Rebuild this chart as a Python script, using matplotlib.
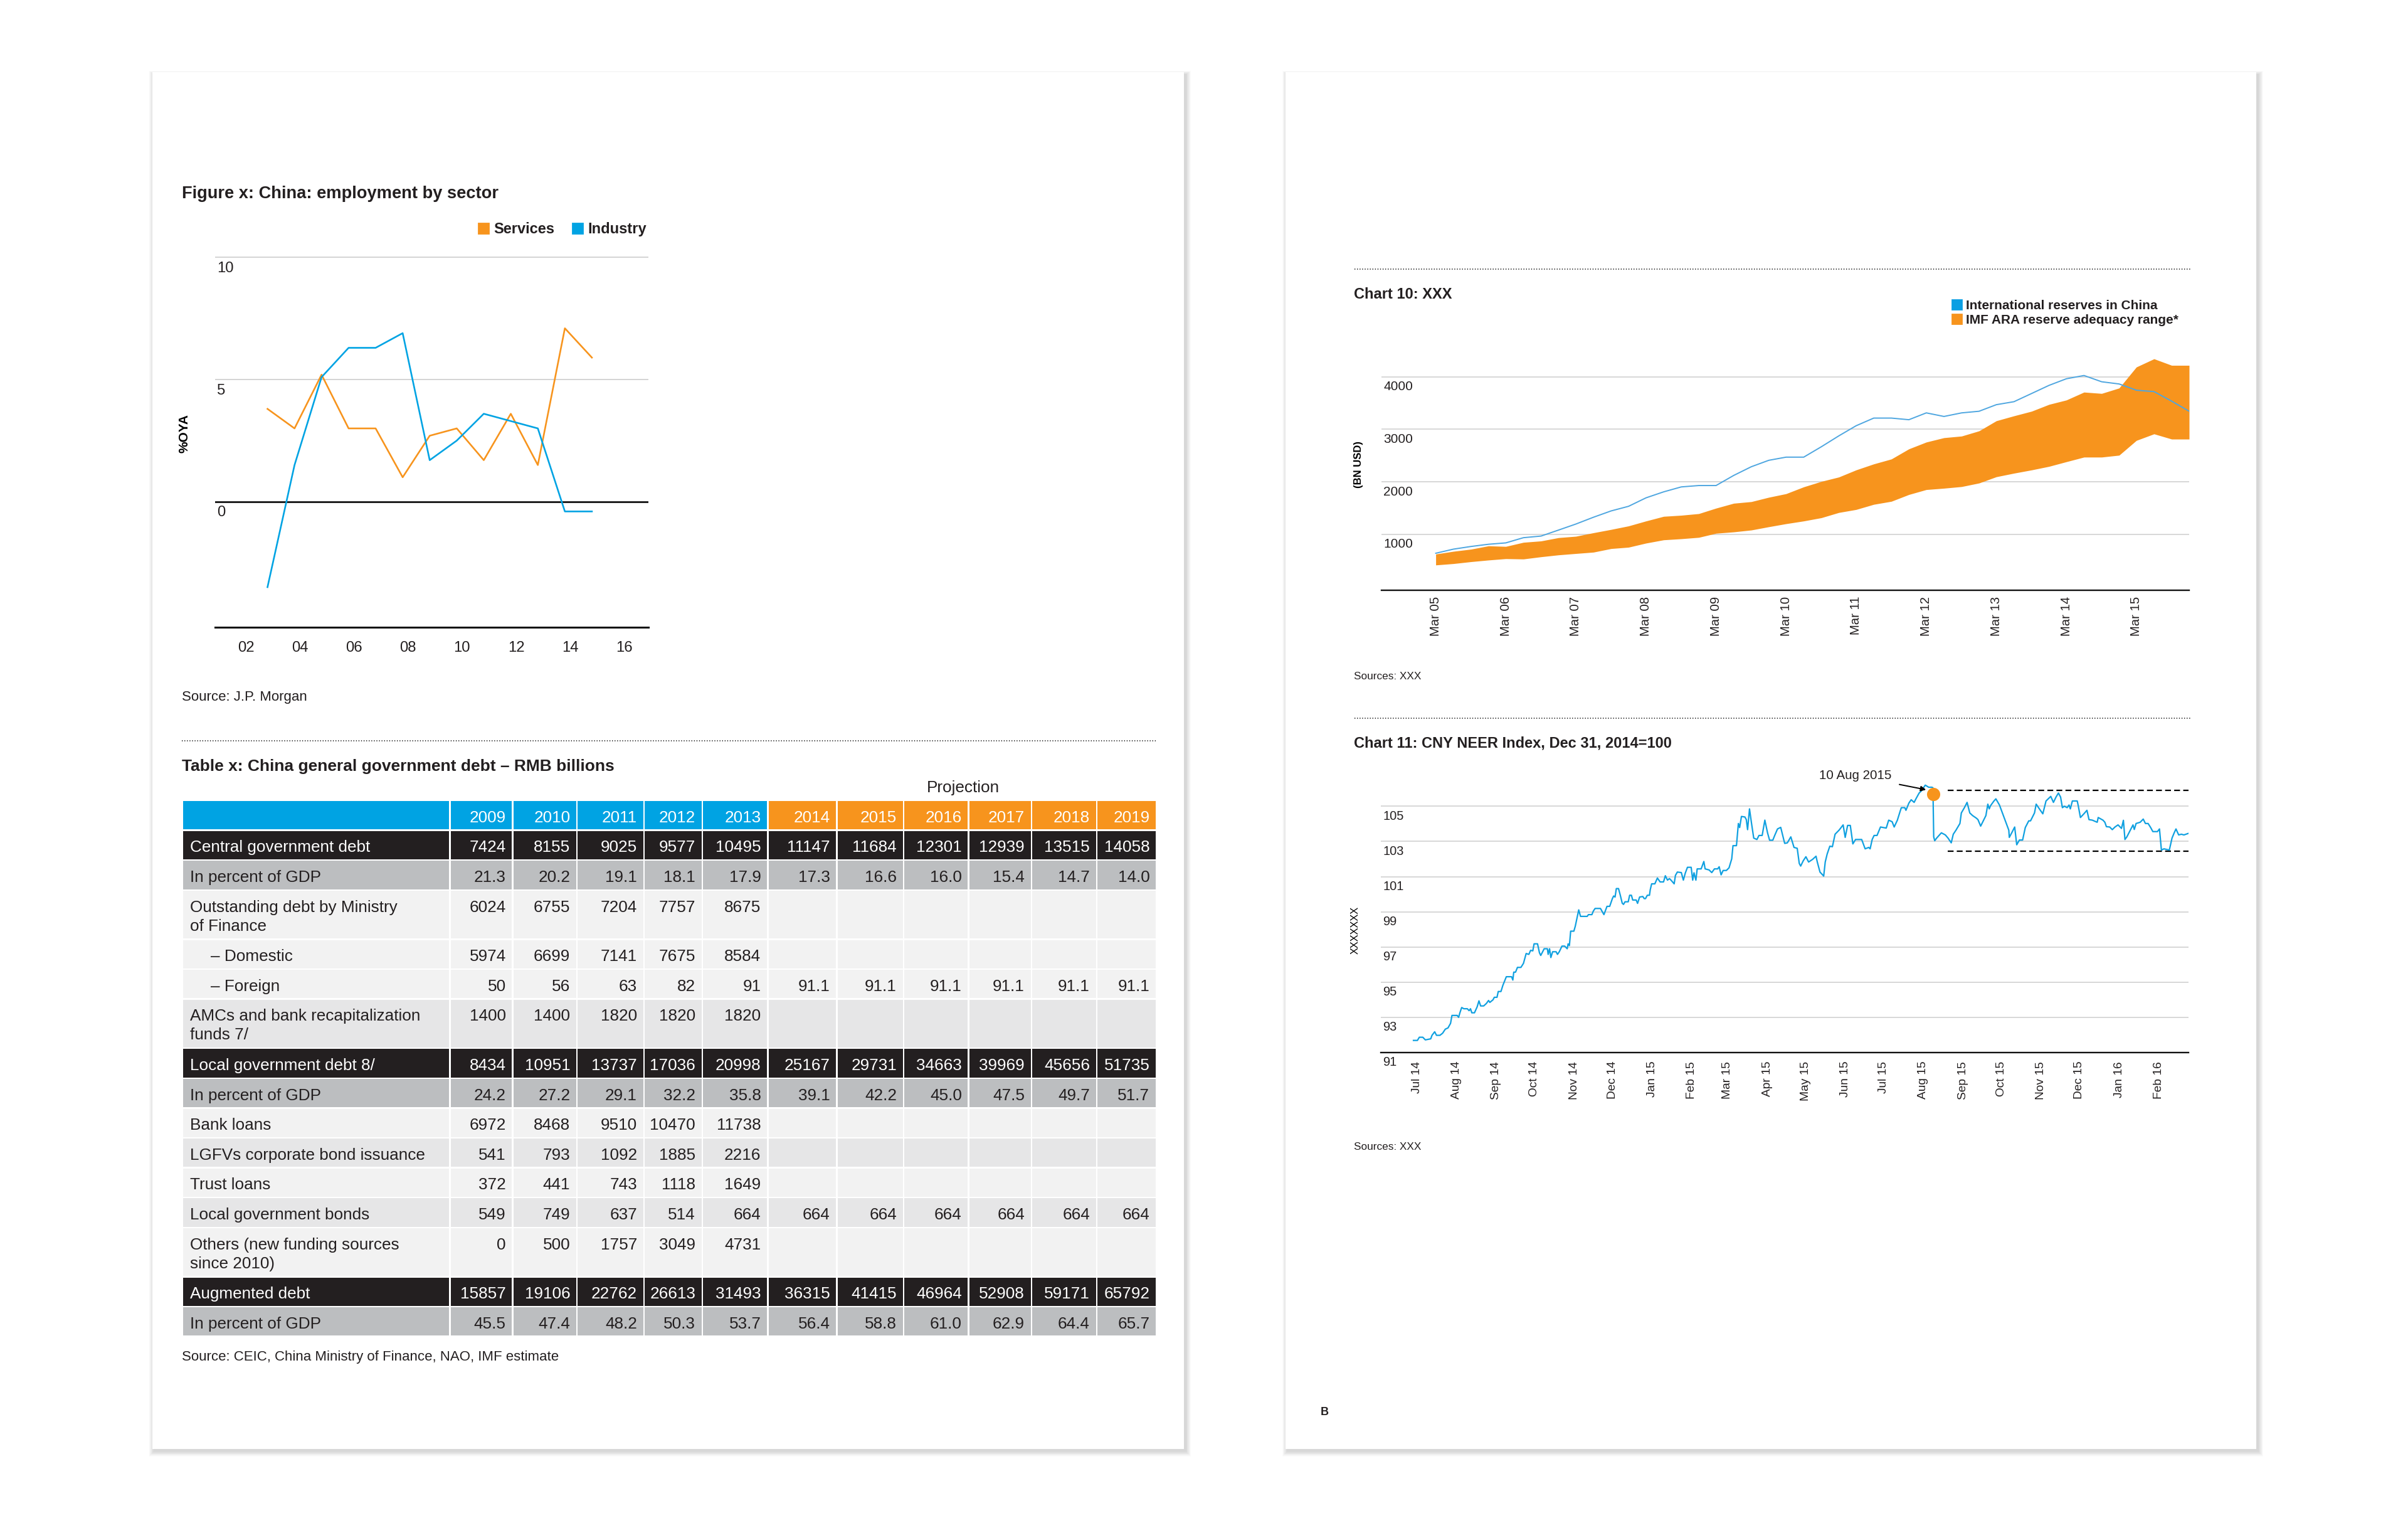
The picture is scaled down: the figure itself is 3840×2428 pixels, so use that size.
import matplotlib
matplotlib.use("Agg")
import matplotlib.pyplot as plt
import matplotlib.dates as mdates
import matplotlib.transforms as mtransforms
import pandas as pd
from matplotlib.patches import Rectangle, Patch

plt.rcParams['font.family'] = ['Liberation Sans', 'DejaVu Sans']
plt.rcParams['text.color'] = '#231f20'

W, H = 3840, 2428
ORANGE = '#f7941d'
BLUE = '#00a3e3'
INK = '#231f20'
GRID = '#cdcdcd'

# ---- Figure x: China employment by sector (%oya) ----
emp_years = list(range(2003, 2016))
services = [3.8, 3.0, 5.2, 3.0, 3.0, 1.0, 2.7, 3.0, 1.7, 3.6, 1.5, 7.1, 5.9]
industry = [-3.5, 1.5, 5.1, 6.3, 6.3, 6.9, 1.7, 2.5, 3.6, 3.3, 3.0, -0.4, -0.4]

# ---- Table x: general government debt, RMB bn ----
years = list(range(2009, 2020))
row_labels = [
    'Central government debt',
    'In percent of GDP',
    'Outstanding debt by Ministry\nof Finance',
    '– Domestic',
    '– Foreign',
    'AMCs and bank recapitalization\nfunds 7/',
    'Local government debt 8/',
    'In percent of GDP',
    'Bank loans',
    'LGFVs corporate bond issuance',
    'Trust loans',
    'Local government bonds',
    'Others (new funding sources\nsince 2010)',
    'Augmented debt',
    'In percent of GDP',
]
row_values = [
    ['7424', '8155', '9025', '9577', '10495', '11147', '11684', '12301', '12939', '13515', '14058'],
    ['21.3', '20.2', '19.1', '18.1', '17.9', '17.3', '16.6', '16.0', '15.4', '14.7', '14.0'],
    ['6024', '6755', '7204', '7757', '8675', '', '', '', '', '', ''],
    ['5974', '6699', '7141', '7675', '8584', '', '', '', '', '', ''],
    ['50', '56', '63', '82', '91', '91.1', '91.1', '91.1', '91.1', '91.1', '91.1'],
    ['1400', '1400', '1820', '1820', '1820', '', '', '', '', '', ''],
    ['8434', '10951', '13737', '17036', '20998', '25167', '29731', '34663', '39969', '45656', '51735'],
    ['24.2', '27.2', '29.1', '32.2', '35.8', '39.1', '42.2', '45.0', '47.5', '49.7', '51.7'],
    ['6972', '8468', '9510', '10470', '11738', '', '', '', '', '', ''],
    ['541', '793', '1092', '1885', '2216', '', '', '', '', '', ''],
    ['372', '441', '743', '1118', '1649', '', '', '', '', '', ''],
    ['549', '749', '637', '514', '664', '664', '664', '664', '664', '664', '664'],
    ['0', '500', '1757', '3049', '4731', '', '', '', '', '', ''],
    ['15857', '19106', '22762', '26613', '31493', '36315', '41415', '46964', '52908', '59171', '65792'],
    ['45.5', '47.4', '48.2', '50.3', '53.7', '56.4', '58.8', '61.0', '62.9', '64.4', '65.7'],
]
first_projection_year = 2014

# ---- Chart 10: reserves vs IMF ARA range, bn USD, quarterly from Mar 05 ----
quarters = pd.date_range('2005-03-01', periods=44, freq='3MS')
reserves = [642, 720, 771, 813, 839, 938, 969, 1083, 1197, 1327, 1447, 1535,
            1696, 1810, 1904, 1930, 1930, 2122, 2288, 2410, 2470, 2470, 2668, 2875,
            3067, 3213, 3213, 3182, 3312, 3244, 3312, 3343, 3468, 3525, 3681, 3836,
            3961, 4023, 3904, 3862, 3743, 3717, 3535, 3343]
ara_high = [626, 678, 719, 782, 771, 849, 875, 938, 964, 1031, 1094, 1161,
            1255, 1343, 1364, 1395, 1499, 1592, 1623, 1706, 1774, 1904, 2008, 2091,
            2226, 2340, 2434, 2626, 2756, 2839, 2870, 2969, 3161, 3255, 3343, 3473,
            3556, 3706, 3681, 3784, 4184, 4340, 4216, 4216]
ara_low = [418, 444, 481, 512, 538, 532, 574, 610, 636, 662, 730, 756,
           834, 896, 917, 943, 1021, 1047, 1083, 1145, 1203, 1255, 1317, 1416,
           1473, 1571, 1629, 1758, 1852, 1878, 1909, 1977, 2096, 2164, 2226, 2294,
           2382, 2470, 2470, 2506, 2787, 2912, 2813, 2813]

# ---- Chart 11: CNY NEER, (days after 1 Jul 2014, index) ----
neer_points = [
    (-2.5, 91.69), (0.6, 91.69), (2.1, 91.87), (4.8, 91.87), (6.8, 91.72), (11.0, 91.78),
    (12.0, 91.98), (14.1, 92.18), (15.5, 91.98), (18.2, 91.98), (20.3, 92.10), (22.4, 92.33),
    (24.5, 92.40), (26.5, 92.66), (27.6, 93.11), (31.7, 93.11), (32.8, 93.00), (33.8, 93.26),
    (35.2, 93.56), (36.9, 93.49), (39.6, 93.49), (41.0, 93.38), (42.1, 93.49), (43.1, 93.26),
    (45.2, 93.26), (47.3, 93.60), (48.7, 93.94), (50.0, 93.65), (52.4, 93.65), (54.5, 93.79),
    (56.2, 93.96), (57.2, 93.85), (59.7, 94.00), (60.7, 94.14), (62.8, 94.14), (63.8, 94.47),
    (65.9, 94.47), (67.4, 94.82), (70.1, 95.31), (74.2, 95.31), (75.2, 95.12), (75.9, 95.57),
    (77.3, 95.57), (78.8, 95.84), (81.5, 95.84), (83.5, 96.07), (85.6, 96.63), (87.7, 96.58),
    (89.1, 96.81), (90.8, 96.78), (91.8, 97.18), (94.5, 97.18), (96.0, 96.67), (97.0, 96.52),
    (99.7, 96.90), (102.2, 96.90), (102.8, 96.58), (103.9, 96.90), (104.9, 96.40), (106.3, 96.73),
    (109.0, 96.73), (110.1, 96.58), (111.5, 96.73), (113.6, 97.05), (115.7, 97.05), (117.7, 96.90),
    (118.4, 97.18), (119.4, 97.08), (120.4, 97.90), (122.9, 97.90), (124.0, 98.18), (126.7, 99.11),
    (128.1, 98.74), (133.3, 98.74), (134.3, 98.84), (137.0, 98.84), (138.1, 99.04), (139.5, 99.19),
    (143.7, 99.19), (146.4, 98.84), (148.8, 99.31), (150.9, 99.31), (153.0, 99.75), (154.0, 99.90),
    (155.1, 99.84), (156.1, 100.32), (157.8, 100.32), (159.2, 99.94), (160.7, 99.49), (161.7, 99.42),
    (162.9, 99.57), (165.4, 99.57), (166.5, 99.94), (167.9, 99.94), (168.9, 99.67), (171.6, 99.67),
    (172.7, 99.48), (174.3, 99.84), (176.8, 99.87), (177.9, 99.75), (178.9, 99.75), (180.3, 99.94),
    (182.0, 99.94), (182.6, 100.25), (183.7, 100.59), (186.2, 100.59), (188.2, 100.92), (190.3, 100.70),
    (193.0, 100.70), (194.4, 101.05), (196.1, 100.80), (197.6, 100.89), (199.2, 100.77), (201.3, 100.59),
    (202.3, 101.07), (203.8, 101.26), (206.9, 101.23), (208.5, 100.80), (210.0, 101.20), (211.7, 101.53),
    (214.6, 101.53), (215.8, 100.80), (216.8, 101.22), (218.3, 100.80), (219.3, 101.44), (222.4, 101.44),
    (224.5, 101.86), (225.5, 101.44), (228.6, 101.38), (230.7, 101.23), (232.8, 101.44), (235.3, 101.44),
    (236.5, 101.56), (238.0, 101.10), (239.6, 101.35), (242.1, 101.35), (244.2, 101.50), (246.3, 102.01),
    (247.3, 102.76), (250.0, 102.76), (251.5, 104.02), (252.5, 103.79), (253.9, 104.42), (256.6, 104.39),
    (257.7, 104.24), (258.7, 103.67), (260.2, 104.85), (261.8, 104.02), (263.5, 103.19), (266.0, 103.11),
    (267.6, 103.34), (270.1, 103.34), (272.2, 104.21), (274.3, 103.49), (275.9, 103.07), (278.4, 103.07),
    (279.9, 103.34), (282.1, 103.71), (284.6, 103.80), (287.7, 102.89), (289.8, 102.92), (292.5, 103.26),
    (295.0, 102.66), (297.5, 102.61), (299.1, 101.75), (300.2, 101.60), (302.2, 101.90), (304.3, 102.13),
    (306.4, 101.83), (309.5, 101.98), (312.2, 102.16), (313.2, 101.83), (315.3, 101.26), (318.2, 101.03),
    (319.4, 101.83), (320.9, 102.28), (323.0, 102.73), (325.0, 102.70), (327.1, 103.41), (330.2, 103.64),
    (333.4, 103.94), (335.0, 103.23), (336.9, 103.91), (339.0, 103.91), (341.0, 102.86), (343.1, 103.11),
    (347.9, 103.11), (350.6, 102.58), (353.4, 102.66), (354.5, 102.58), (356.1, 103.11), (357.6, 103.34),
    (359.9, 103.34), (362.6, 103.82), (367.1, 103.76), (369.0, 104.21), (371.7, 104.12), (373.3, 103.82),
    (375.8, 104.21), (377.9, 104.70), (378.9, 104.92), (381.6, 104.92), (382.5, 104.77), (384.8, 105.18),
    (386.6, 105.37), (388.9, 105.22), (390.3, 105.42), (392.8, 105.75), (394.5, 105.87), (397.6, 106.20),
    (400.3, 106.08), (402.8, 106.08), (403.6, 106.05), (404.2, 103.26), (405.0, 103.04), (406.5, 103.19),
    (410.2, 103.49), (413.3, 103.37), (415.4, 103.19), (417.9, 102.92), (419.5, 103.41), (421.6, 103.64),
    (424.7, 104.02), (425.8, 104.62), (428.2, 104.92), (430.3, 105.22), (432.4, 104.62), (434.6, 104.47),
    (437.6, 104.32), (438.8, 104.24), (440.9, 103.87), (442.4, 104.09), (445.0, 104.47), (446.5, 105.12),
    (447.6, 104.85), (448.6, 105.03), (451.3, 105.30), (452.8, 105.42), (455.6, 105.07), (462.9, 103.64),
    (463.3, 103.23), (465.4, 103.52), (467.5, 103.82), (469.1, 102.81), (471.2, 103.08), (473.7, 103.08),
    (475.8, 103.79), (478.5, 104.17), (479.9, 104.17), (483.0, 104.62), (484.3, 105.12), (486.8, 104.85),
    (489.5, 104.57), (492.0, 105.30), (494.1, 105.45), (495.7, 105.56), (497.8, 105.22), (499.8, 105.52),
    (501.7, 105.75), (503.4, 105.52), (504.8, 104.92), (506.4, 105.00), (508.5, 104.92), (510.0, 105.07),
    (511.0, 104.85), (512.6, 105.30), (516.4, 105.30), (517.2, 105.03), (518.9, 104.36), (521.6, 104.57),
    (524.0, 104.77), (525.6, 104.24), (528.2, 104.21), (532.0, 104.09), (532.8, 104.36), (536.5, 104.21),
    (538.0, 104.09), (539.2, 103.84), (541.8, 103.82), (543.8, 103.67), (545.9, 103.82), (548.3, 103.94),
    (551.0, 103.74), (552.5, 104.20), (553.7, 103.11), (555.2, 103.26), (557.9, 103.64), (560.0, 103.94),
    (561.0, 103.68), (562.4, 104.02), (565.6, 104.09), (568.0, 104.27), (569.7, 104.02), (571.8, 104.02),
    (573.8, 103.79), (575.5, 103.56), (579.1, 103.56), (580.7, 103.71), (582.2, 102.51), (584.2, 102.58),
    (588.4, 102.51), (590.5, 103.19), (592.2, 103.49), (593.6, 103.71), (595.7, 103.37), (597.8, 103.41),
    (599.8, 103.37), (603.4, 103.46),
]
neer_base = pd.Timestamp('2014-07-01')
range_hi, range_lo = 105.89, 102.43      # dashed trading band after the move
range_start_day = 415.2
peak_day, peak_val = 403.8, 105.68       # orange marker, 10 Aug 2015


def rect(x0, y0, x1, y1):
    # pixel box (top-left origin) -> figure fraction rect
    return [x0 / W, 1 - y1 / H, (x1 - x0) / W, (y1 - y0) / H]


fig = plt.figure(figsize=(W / 200, H / 200), dpi=200)
fig.patch.set_facecolor('white')

# page layer, drawn in pixel coordinates
pg = fig.add_axes([0, 0, 1, 1])
pg.set_xlim(0, W)
pg.set_ylim(H, 0)
pg.axis('off')

for x0, x1 in [(242.5, 1888), (2050, 3598)]:
    y0, y1 = 115, 2309.5
    for s in range(1, 11):
        pg.add_patch(Rectangle((x0 - s * 0.8 + 3, y0 - s * 0.6 + 4), x1 - x0 + s * 1.6, y1 - y0 + s * 1.4,
                               color='black', alpha=0.016, lw=0))
    pg.add_patch(Rectangle((x0, y0), x1 - x0, y1 - y0, color='white', lw=0))

dots = dict(color='#3a3a3a', lw=0.7, ls=(0, (0.7, 1.4)))
pg.plot([290, 1843], [1181, 1181], **dots)
pg.plot([2160, 3494], [429, 429], **dots)
pg.plot([2160, 3494], [1145, 1145], **dots)

pg.text(290, 315.5, 'Figure x: China: employment by sector', fontsize=9.8, fontweight='bold', va='baseline')
pg.text(290, 1117, 'Source: J.P. Morgan', fontsize=8, va='baseline')
pg.text(290, 1228.5, 'Table x: China general government debt – RMB billions', fontsize=9.5,
        fontweight='bold', va='baseline')
pg.text(1535.5, 1262.5, 'Projection', fontsize=9.4, ha='center', va='baseline')
pg.text(290, 2169, 'Source: CEIC, China Ministry of Finance, NAO, IMF estimate', fontsize=8, va='baseline')
pg.text(2159, 475.5, 'Chart 10: XXX', fontsize=8.5, fontweight='bold', va='baseline')
pg.text(2159, 1083, 'Sources: XXX', fontsize=6.2, va='baseline')
pg.text(2159, 1191.5, 'Chart 11: CNY NEER Index, Dec 31, 2014=100', fontsize=8.5, fontweight='bold', va='baseline')
pg.text(2159, 1833, 'Sources: XXX', fontsize=6.2, va='baseline')
pg.text(2106, 2256, 'B', fontsize=6.5, fontweight='bold', va='baseline')

# ---- table ----
col_x = [292, 718.7, 818.7, 921.3, 1028, 1121, 1225.5, 1335.6, 1442, 1545.8, 1646, 1750, 1845.4]
row_kind = ['dark', 'gray', 'light', 'light', 'light', 'mid', 'dark', 'gray',
            'light', 'mid', 'light', 'mid', 'light', 'dark', 'gray']
fills = {'dark': INK, 'gray': '#bcbec0', 'light': '#f2f2f2', 'mid': '#e6e6e7'}
gap, pitch1, pitch2 = 2.5, 47.6, 78.6
cell_fs = 9.4

y = 1277.3
for i in range(len(col_x) - 1):
    if i == 0:
        c = BLUE
    else:
        c = ORANGE if years[i - 1] >= first_projection_year else BLUE
    pg.add_patch(Rectangle((col_x[i], y), col_x[i + 1] - col_x[i] - gap, pitch1 - gap, color=c, lw=0))
    if i > 0:
        pg.text(col_x[i + 1] - gap - 9.5, y + 33.5, str(years[i - 1]), color='white',
                fontsize=cell_fs, ha='right', va='baseline')
y += pitch1

for label, vals, kind in zip(row_labels, row_values, row_kind):
    lines = label.split('\n')
    h = pitch2 if len(lines) > 1 else pitch1
    txt = 'white' if kind == 'dark' else INK
    for i in range(len(col_x) - 1):
        pg.add_patch(Rectangle((col_x[i], y), col_x[i + 1] - col_x[i] - gap, h - gap,
                               color=fills[kind], lw=0))
    indent = 44.5 if label.startswith('–') else 11
    for k, ln in enumerate(lines):
        pg.text(col_x[0] + indent, y + 33.5 + 30 * k, ln, color=txt, fontsize=cell_fs, va='baseline')
    for i, v in enumerate(vals):
        if v:
            pg.text(col_x[i + 2] - gap - 9.5, y + 33.5, v, color=txt, fontsize=cell_fs,
                    ha='right', va='baseline')
    y += h


def inside_ylabels(ax, values, fs, dy=-2.3):
    for v in values:
        ax.annotate(str(v), xy=(0, v), xycoords=('axes fraction', 'data'), xytext=(1.2, dy),
                    textcoords='offset points', ha='left', va='top', fontsize=fs, color=INK,
                    annotation_clip=False)


def clean(ax, base_lw):
    ax.set_facecolor('none')
    for s in ['top', 'right', 'left']:
        ax.spines[s].set_visible(False)
    ax.spines['bottom'].set_color('#111111')
    ax.spines['bottom'].set_linewidth(base_lw)
    ax.set_yticks([])


# ---- Figure x ----
ax1 = fig.add_axes(rect(342.5, 405, 1034, 999.5))
clean(ax1, 1.1)
for v in (5, 10):
    ax1.axhline(v, color=GRID, lw=0.6, zorder=0)
ax1.axhline(0, color='#111111', lw=1.0, zorder=1)
ax1.plot(emp_years, services, color=ORANGE, lw=0.95, zorder=3)
ax1.plot(emp_years, industry, color=BLUE, lw=0.95, zorder=3)
ax1.set_xlim(2001.05, 2017.09)
ax1.set_ylim(-5.13, 10.14)
ax1.set_xticks(range(2002, 2017, 2))
ax1.set_xticklabels([f'{y % 100:02d}' for y in range(2002, 2017, 2)])
ax1.tick_params(axis='x', length=0, pad=8, labelsize=8.6, labelcolor=INK)
# year labels in the source sit a little right of the year mark
shift = mtransforms.ScaledTranslation(8.5 / 200, 0, fig.dpi_scale_trans)
for lab in ax1.get_xticklabels():
    lab.set_transform(lab.get_transform() + shift)
inside_ylabels(ax1, [0, 5, 10], 8.6)
ax1.set_ylabel('%OYA', fontsize=7.5, fontweight='bold')
ax1.yaxis.set_label_coords(-0.0557, 0.519)
ax1.legend(handles=[Patch(color=ORANGE, label='Services'), Patch(color=BLUE, label='Industry')],
           ncol=2, loc='lower right', bbox_to_anchor=(1031 / W, 1 - 377 / H), bbox_transform=fig.transFigure,
           frameon=False, prop={'size': 8.5, 'weight': 'bold'}, handlelength=0.68, handleheight=0.68,
           handletextpad=0.35, columnspacing=1.2, borderpad=0, borderaxespad=0)

# ---- Chart 10 ----
ax2 = fig.add_axes(rect(2203, 560, 3491, 941))
clean(ax2, 0.85)
for v in (1000, 2000, 3000, 4000):
    ax2.axhline(v, color=GRID, lw=0.55, zorder=0)
ax2.fill_between(quarters, ara_low, ara_high, color=ORANGE, lw=0, zorder=2)
ax2.plot(quarters, reserves, color='#4ea6e0', lw=0.7, zorder=3)
ax2.set_xlim(pd.Timestamp('2004-05-22'), quarters[-1])
ax2.set_ylim(-62, 4484)
ax2.xaxis.set_major_locator(mdates.MonthLocator(bymonth=3))
ax2.xaxis.set_major_formatter(mdates.DateFormatter('%b %y'))
ax2.tick_params(axis='x', length=0, pad=3.5, labelsize=7.3, labelrotation=90, labelcolor=INK)
inside_ylabels(ax2, [1000, 2000, 3000, 4000], 7.5)
ax2.set_ylabel('(BN USD)', fontsize=6, fontweight='bold')
ax2.yaxis.set_label_coords(-0.0225, 0.525)
ax2.legend(handles=[Patch(color='#0a9fe3', label='International reserves in China'),
                    Patch(color=ORANGE, label='IMF ARA reserve adequacy range*')],
           loc='upper left', bbox_to_anchor=(3113 / W, 1 - 478 / H), bbox_transform=fig.transFigure,
           frameon=False, prop={'size': 7.5, 'weight': 'bold'}, handlelength=0.72, handleheight=0.72,
           handletextpad=0.35, labelspacing=0.2, borderpad=0, borderaxespad=0)

# ---- Chart 11 ----
neer_day = [p[0] for p in neer_points]
neer_val = [p[1] for p in neer_points]
neer_dates = neer_base + pd.to_timedelta(neer_day, unit='D')

ax3 = fig.add_axes(rect(2202, 1250, 3490, 1678))
clean(ax3, 0.85)
for v in range(93, 106, 2):
    ax3.axhline(v, color=GRID, lw=0.55, zorder=0)
ax3.plot(neer_dates, neer_val, color='#0fa0e0', lw=0.8, zorder=3)
x_end = neer_base + pd.Timedelta(days=603.4)
ax3.hlines([range_hi, range_lo], neer_base + pd.Timedelta(days=range_start_day), x_end,
           colors='black', lw=0.8, linestyles=[(0, (4.2, 2.3))], zorder=2)
ax3.plot([neer_base + pd.Timedelta(days=peak_day)], [peak_val], 'o', color=ORANGE, ms=7.6,
         mec='none', zorder=5)
ax3.annotate('10 Aug 2015', xy=(neer_base + pd.Timedelta(days=398.2), 105.94),
             xytext=(neer_base + pd.Timedelta(days=371.3), 106.73), ha='right', va='center',
             fontsize=7.4, color=INK, annotation_clip=False,
             arrowprops=dict(arrowstyle='-|>', color='black', lw=0.7, mutation_scale=6,
                             shrinkA=2.5, shrinkB=0))
ax3.set_xlim(neer_base - pd.Timedelta(days=28), x_end)
ax3.set_ylim(91, 106.26)
ax3.xaxis.set_major_locator(mdates.MonthLocator())
ax3.xaxis.set_major_formatter(mdates.DateFormatter('%b %y'))
ax3.tick_params(axis='x', length=0, pad=5, labelsize=6.9, labelrotation=90, labelcolor=INK)
inside_ylabels(ax3, list(range(91, 106, 2)), 7.2)
ax3.set_ylabel('XXXXXXX', fontsize=5.9)
ax3.yaxis.set_label_coords(-0.0256, 0.456)

fig.savefig('out.png', dpi=200, facecolor='white')
